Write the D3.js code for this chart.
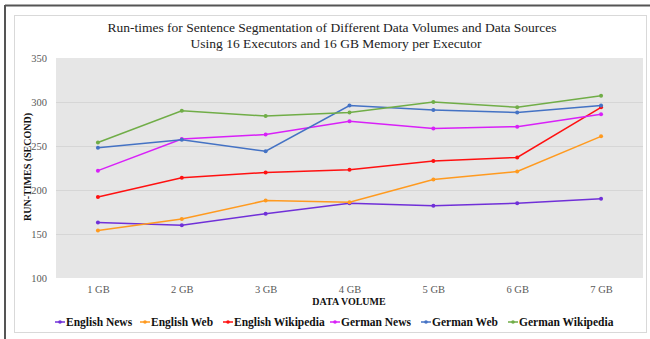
<!DOCTYPE html>
<html><head><meta charset="utf-8">
<script src="https://cdn.jsdelivr.net/npm/d3@7"></script>
<style>body{margin:0;background:#fff}svg{display:block}</style>
</head><body>
<svg id="c" width="650" height="339"></svg>
<script>
const categories = ["1 GB","2 GB","3 GB","4 GB","5 GB","6 GB","7 GB"];
const seriesNames = ["English News","English Web","English Wikipedia","German News","German Web","German Wikipedia"];
const englishNews = [163,160,173,185,182,185,190];
const englishWeb = [154,167,188,186,212,221,261];
const englishWikipedia = [192,214,220,223,233,237,294];
const germanNews = [222,258,263,278,270,272,286];
const germanWeb = [248,257,244,296,291,288,296];
const germanWikipedia = [254,290,284,288,300,294,307];
const yTicks = [100,150,200,250,300,350];
const colors = ["#7030d8","#ff9a1f","#ff1010","#d820f8","#4472c4","#70ad47"];
const seriesValues = [englishNews,englishWeb,englishWikipedia,germanNews,germanWeb,germanWikipedia];

const svg = d3.select("#c");
const serif = "'Liberation Serif','Times New Roman',serif";

// outer frame
svg.append("line").attr("x1",5).attr("x2",650).attr("y1",5.5).attr("y2",5.5).attr("stroke","#555").attr("stroke-width",2);
svg.append("line").attr("x1",5).attr("x2",5).attr("y1",5).attr("y2",339).attr("stroke","#555").attr("stroke-width",2);
svg.append("rect").attr("x",14.5).attr("y",15.5).attr("width",632).attr("height",317).attr("fill","#fff").attr("stroke","#d9d9d9");

const x = d3.scalePoint().domain(categories).range([56,643]).padding(0.5);
const y = d3.scaleLinear().domain([100,350]).range([278,58]);

svg.append("rect").attr("x",56).attr("y",58).attr("width",587).attr("height",220).attr("fill","#e6e6e6");

// gridlines
svg.append("g").selectAll("line").data(yTicks.slice(1,-1)).join("line")
  .attr("x1",56).attr("x2",643).attr("y1",d=>Math.round(y(d))+0.5).attr("y2",d=>Math.round(y(d))+0.5)
  .attr("stroke","#d6d6d6").attr("stroke-width",1);

// y axis
const ya = svg.append("g").attr("transform","translate(56,0)")
  .call(d3.axisLeft(y).tickValues(yTicks).tickSize(0).tickPadding(9));
ya.select(".domain").remove();
ya.selectAll("text").attr("font-family",serif).attr("font-size",10.5).attr("fill","#595959");

// x axis
const xa = svg.append("g").attr("transform","translate(0,278)")
  .call(d3.axisBottom(x).tickSize(0).tickPadding(8));
xa.select(".domain").remove();
xa.selectAll("text").attr("font-family",serif).attr("font-size",10.5).attr("fill","#595959");

// titles
const t = svg.append("text").attr("text-anchor","middle").attr("font-family",serif).attr("font-size",13.5).attr("fill","#222");
t.append("tspan").attr("x",332).attr("y",32).text("Run-times for Sentence Segmentation of Different Data Volumes and Data Sources");
t.append("tspan").attr("x",336).attr("y",47.5).text("Using 16 Executors and 16 GB Memory per Executor");

svg.append("text").attr("x",349).attr("y",304.5).attr("text-anchor","middle").attr("font-family",serif)
  .attr("font-size",10).attr("font-weight","bold").attr("fill","#111").text("DATA VOLUME");
svg.append("text").attr("transform","translate(31,167) rotate(-90)").attr("text-anchor","middle").attr("font-family",serif)
  .attr("font-size",10).attr("font-weight","bold").attr("fill","#111").text("RUN-TIMES (SECOND)");

// lines
const line = d3.line().x((d,i)=>x(categories[i])).y(d=>y(d));
seriesValues.forEach((vals,si)=>{
  svg.append("path").datum(vals).attr("d",line).attr("fill","none").attr("stroke",colors[si]).attr("stroke-width",1.5);
  svg.append("g").selectAll("circle").data(vals).join("circle")
    .attr("cx",(d,i)=>x(categories[i])).attr("cy",d=>y(d)).attr("r",2).attr("fill",colors[si]);
});

// legend
const legendX = [55,140,223,330,421,508];
const lg = svg.append("g");
seriesNames.forEach((n,i)=>{
  const g = lg.append("g").attr("transform",`translate(${legendX[i]},322)`);
  g.append("line").attr("x1",0).attr("x2",10).attr("y1",0).attr("y2",0).attr("stroke",colors[i]).attr("stroke-width",1.5);
  g.append("circle").attr("cx",5).attr("cy",0).attr("r",1.8).attr("fill",colors[i]);
  g.append("text").attr("x",11).attr("y",4).attr("font-family",serif).attr("font-size",11.5).attr("font-weight","bold").attr("fill","#111").text(n);
});
</script>
</body></html>
